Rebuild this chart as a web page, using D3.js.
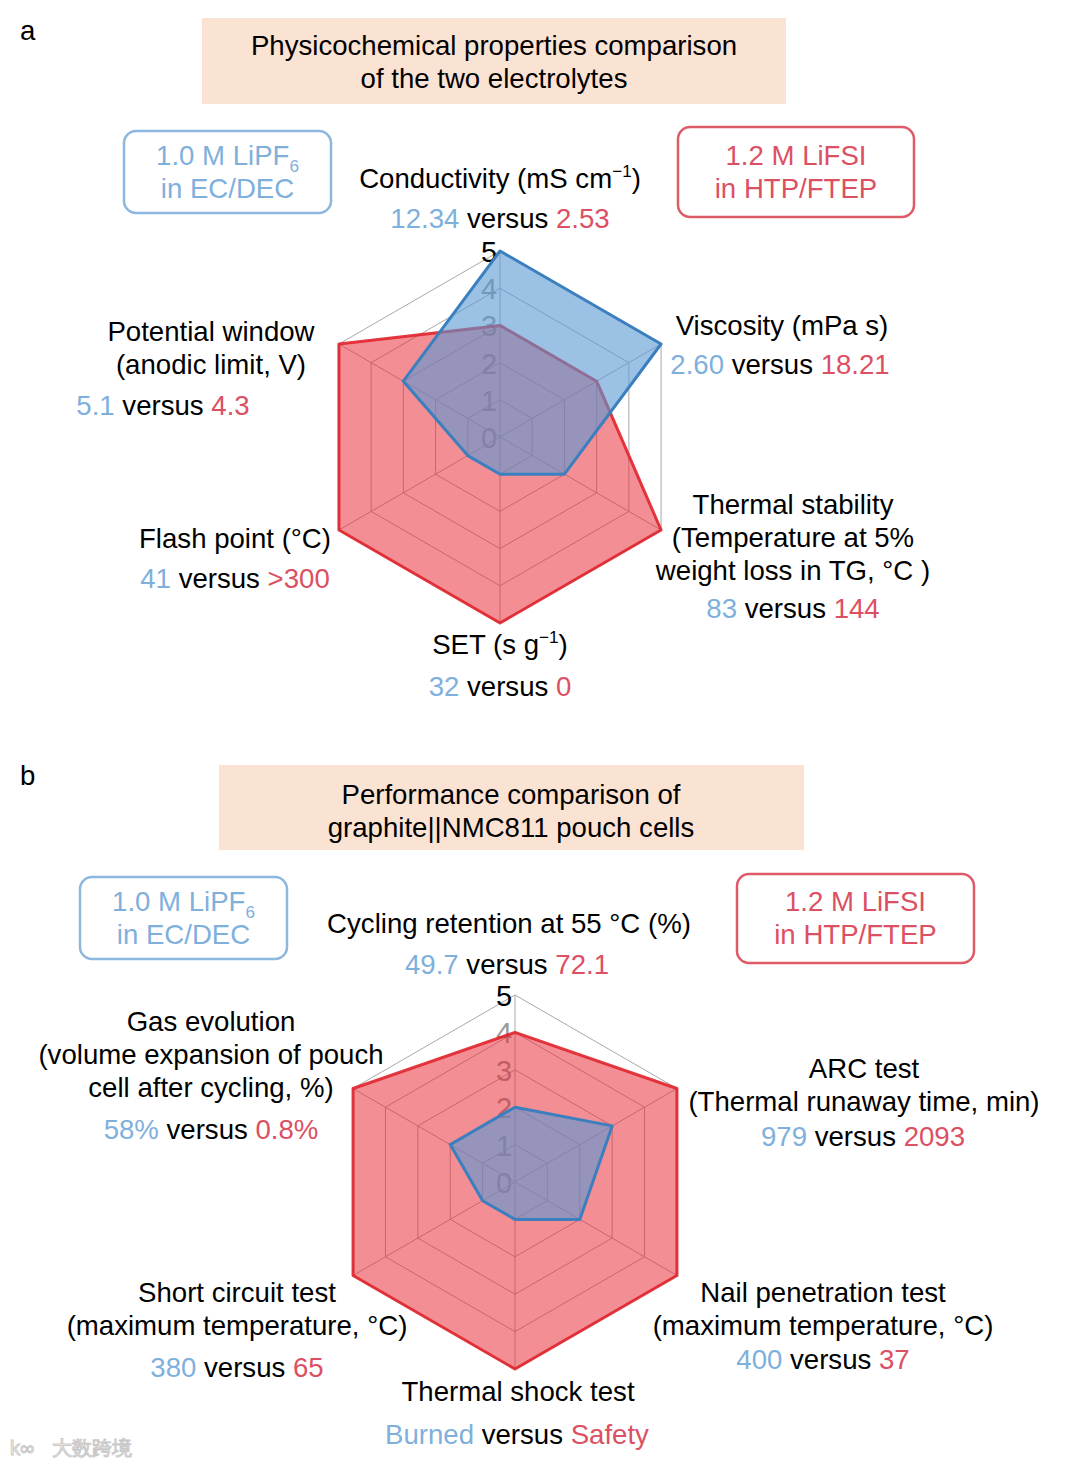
<!DOCTYPE html>
<html>
<head>
<meta charset="utf-8">
<script src="https://cdn.jsdelivr.net/npm/d3@7"></script>
<style>
  html, body { margin: 0; padding: 0; background: #fff; }
  svg { display: block; }
  text { font-family: "Liberation Sans", Arial, sans-serif; }
</style>
</head>
<body>
<div id="chart"></div>
<script>
// ---------------------------------------------------------
// Data (score 0-5 on each axis)
// ---------------------------------------------------------
const ticks = [0, 1, 2, 3, 4, 5];

const axesA = [
  ['Conductivity  (mS cm^{−1})'],
  ['Viscosity (mPa s)'],
  ['Thermal stability', '(Temperature at 5%', 'weight loss in TG, °C )'],
  ['SET (s g^{−1})'],
  ['Flash point (°C)'],
  ['Potential window', '(anodic limit, V)']
];
const lipf6A = [5, 5, 2, 1, 1, 3];
const lifsiA = [3, 3, 5, 5, 5, 5];
const valuesA = [['12.34', '2.53'], ['2.60', '18.21'], ['83', '144'], ['32', '0'], ['41', '>300'], ['5.1', '4.3']];

const axesB = [
  ['Cycling retention at 55 °C (%)'],
  ['ARC test', '(Thermal runaway time, min)'],
  ['Nail penetration test', '(maximum temperature, °C)'],
  ['Thermal shock test'],
  ['Short circuit test', '(maximum temperature, °C)'],
  ['Gas evolution', '(volume expansion of pouch', 'cell after cycling, %)']
];
const lipf6B = [2, 3, 2, 1, 1, 2];
const lifsiB = [4, 5, 5, 5, 5, 5];
const valuesB = [['49.7', '72.1'], ['979', '2093'], ['400', '37'], ['Burned', 'Safety'], ['380', '65'], ['58%', '0.8%']];

const titleA = ['Physicochemical properties comparison', 'of the two electrolytes'];
const titleB = ['Performance comparison of', 'graphite||NMC811 pouch cells'];
const legendLipf6 = ['1.0 M LiPF_{6}', 'in EC/DEC'];
const legendLifsi = ['1.2 M LiFSI', 'in HTP/FTEP'];

// ---------------------------------------------------------
// Styles
// ---------------------------------------------------------
const BLUE_TXT = '#7fb0dc';
const RED_TXT = '#dc5063';
const FS = 27.6;

const W = 1080, H = 1467;
const svg = d3.select('#chart').append('svg')
  .attr('width', W).attr('height', H);

// write a line that may contain ^{sup} or _{sub} parts
function richText(sel, str, size) {
  const parts = str.split(/(\^\{[^}]*\}|_\{[^}]*\})/).filter(s => s.length);
  let shift = 0;
  parts.forEach(p => {
    if (p.startsWith('^{') || p.startsWith('_{')) {
      const up = p[0] === '^';
      const d = up ? -size * 0.38 : size * 0.28;
      sel.append('tspan').attr('font-size', size * 0.62).attr('dy', d - shift).text(p.slice(2, -1));
      shift = d;
    } else {
      sel.append('tspan').attr('dy', -shift).text(p);
      shift = 0;
    }
  });
}

// y positions passed are visual centres, baseline sits ~9px lower
function textLine(g, x, y, str, color, size) {
  const t = g.append('text')
    .attr('x', x).attr('y', y + 9.5)
    .attr('text-anchor', 'middle')
    .attr('font-size', size)
    .attr('fill', color || '#000');
  richText(t, str, size);
  return t;
}

function valueLine(g, x, y, pair) {
  const t = g.append('text')
    .attr('x', x).attr('y', y + 9.5)
    .attr('text-anchor', 'middle')
    .attr('font-size', FS);
  t.append('tspan').attr('fill', BLUE_TXT).text(pair[0]);
  t.append('tspan').attr('fill', '#000').text(' versus ');
  t.append('tspan').attr('fill', RED_TXT).text(pair[1]);
}

function titleBox(g, box, lines, cx, ys) {
  g.append('rect')
    .attr('x', box[0]).attr('y', box[1])
    .attr('width', box[2] - box[0]).attr('height', box[3] - box[1])
    .attr('fill', '#fbe3d4');
  lines.forEach((l, i) => textLine(g, cx, ys[i], l, '#000', FS));
}

function legendBox(g, box, lines, color, stroke, ys) {
  g.append('rect')
    .attr('x', box[0]).attr('y', box[1])
    .attr('width', box[2] - box[0]).attr('height', box[3] - box[1])
    .attr('rx', 12).attr('ry', 12)
    .attr('fill', 'none')
    .attr('stroke', stroke).attr('stroke-width', 2.5);
  const cx = (box[0] + box[2]) / 2;
  lines.forEach((l, i) => textLine(g, cx, ys[i], l, color, FS));
}

function radar(g, cfg) {
  const r = d3.scaleLinear().domain([0, 5]).range([0, cfg.radius]);
  const n = cfg.series[0].length;
  const ang = i => i * 2 * Math.PI / n;
  const pt = (i, v) => [cfg.cx + r(v) * Math.sin(ang(i)), cfg.cy - r(v) * Math.cos(ang(i))];

  const grid = g.append('g');
  // rings
  ticks.filter(t => t > 0).forEach(t => {
    grid.append('polygon')
      .attr('points', d3.range(n).map(i => pt(i, t).join(',')).join(' '))
      .attr('fill', 'none')
      .attr('stroke', '#a8a8a8').attr('stroke-width', 1);
  });
  // spokes
  d3.range(n).forEach(i => {
    const p = pt(i, 5);
    grid.append('line')
      .attr('x1', cfg.cx).attr('y1', cfg.cy)
      .attr('x2', p[0]).attr('y2', p[1])
      .attr('stroke', '#a8a8a8').attr('stroke-width', 1);
  });
  // tick labels (under the fills)
  ticks.forEach(t => {
    g.append('text')
      .attr('x', cfg.cx - 11)
      .attr('y', cfg.cy - r(t) + 11)
      .attr('text-anchor', 'middle')
      .attr('font-size', 29)
      .attr('fill', t === 5 ? '#000' : '#9a9a9a')
      .text(t);
  });

  const line = d3.line().curve(d3.curveLinearClosed);
  const styles = [
    { fill: 'rgb(232,42,52)', op: 0.53, stroke: '#e0242c' },
    { fill: 'rgb(88,152,212)', op: 0.6, stroke: '#3c7fbf' }
  ];
  // red (LiFSI) first, blue (LiPF6) on top
  [cfg.series[1], cfg.series[0]].forEach((s, k) => {
    const pts = s.map((v, i) => pt(i, v));
    g.append('path')
      .attr('d', line(pts))
      .attr('fill', styles[k].fill).attr('fill-opacity', styles[k].op)
      .attr('stroke', 'none');
    g.append('path')
      .attr('d', line(pts))
      .attr('fill', 'none')
      .attr('stroke', styles[k].stroke).attr('stroke-width', 3)
      .attr('stroke-linejoin', 'round')
      .attr('stroke-opacity', k === 0 ? 0.9 : 1);
  });

  // axis labels
  cfg.labels.forEach((lines, i) => {
    const lay = cfg.layout[i];
    lines.forEach((l, j) => textLine(g, lay.x, lay.y + j * 33, l, '#000', FS));
    valueLine(g, lay.vx || lay.x, lay.vy, cfg.values[i]);
  });
}

// ---------------------------------------------------------
// Panel a
// ---------------------------------------------------------
const ga = svg.append('g');
ga.append('text').attr('x', 20).attr('y', 40).attr('font-size', FS).text('a');
titleBox(ga, [202, 18, 786, 104], titleA, 494, [45, 78]);
legendBox(ga, [124, 131, 331, 213], legendLipf6, BLUE_TXT, '#8db7de', [155, 188]);
legendBox(ga, [678, 127, 914, 217], legendLifsi, RED_TXT, '#dd5a66', [155, 188]);
radar(ga, {
  cx: 500, cy: 437, radius: 186,
  series: [lipf6A, lifsiA],
  labels: axesA, values: valuesA,
  layout: [
    { x: 500, y: 178, vy: 218 },
    { x: 782, y: 325, vx: 780, vy: 364 },
    { x: 793, y: 504, vy: 608 },
    { x: 500, y: 644, vy: 686 },
    { x: 235, y: 538, vy: 578 },
    { x: 211, y: 331, vx: 163, vy: 405 }
  ]
});

// ---------------------------------------------------------
// Panel b
// ---------------------------------------------------------
const gb = svg.append('g');
gb.append('text').attr('x', 20).attr('y', 785).attr('font-size', FS).text('b');
titleBox(gb, [219, 765, 804, 850], titleB, 511, [794, 827]);
legendBox(gb, [80, 877, 287, 959], legendLipf6, BLUE_TXT, '#8db7de', [901, 934]);
legendBox(gb, [737, 874, 974, 963], legendLifsi, RED_TXT, '#dd5a66', [901, 934]);
radar(gb, {
  cx: 515, cy: 1182, radius: 187,
  series: [lipf6B, lifsiB],
  labels: axesB, values: valuesB,
  layout: [
    { x: 509, y: 923, vx: 507, vy: 964 },
    { x: 864, y: 1068, vx: 863, vy: 1136 },
    { x: 823, y: 1292, vy: 1359 },
    { x: 518, y: 1391, vx: 517, vy: 1434 },
    { x: 237, y: 1292, vy: 1367 },
    { x: 211, y: 1021, vy: 1129 }
  ]
});

// faint watermark, bottom left
svg.append('text')
  .attr('x', 52).attr('y', 1455)
  .attr('font-family', '"Noto Sans CJK SC", sans-serif')
  .attr('font-size', 20)
  .attr('fill', '#fff').attr('stroke', '#c8c8c8').attr('stroke-width', 1)
  .text('大数跨境');
svg.append('text')
  .attr('x', 10).attr('y', 1455)
  .attr('font-size', 20)
  .attr('fill', '#fff').attr('stroke', '#c8c8c8').attr('stroke-width', 1)
  .text('k∞');
</script>
</body>
</html>
